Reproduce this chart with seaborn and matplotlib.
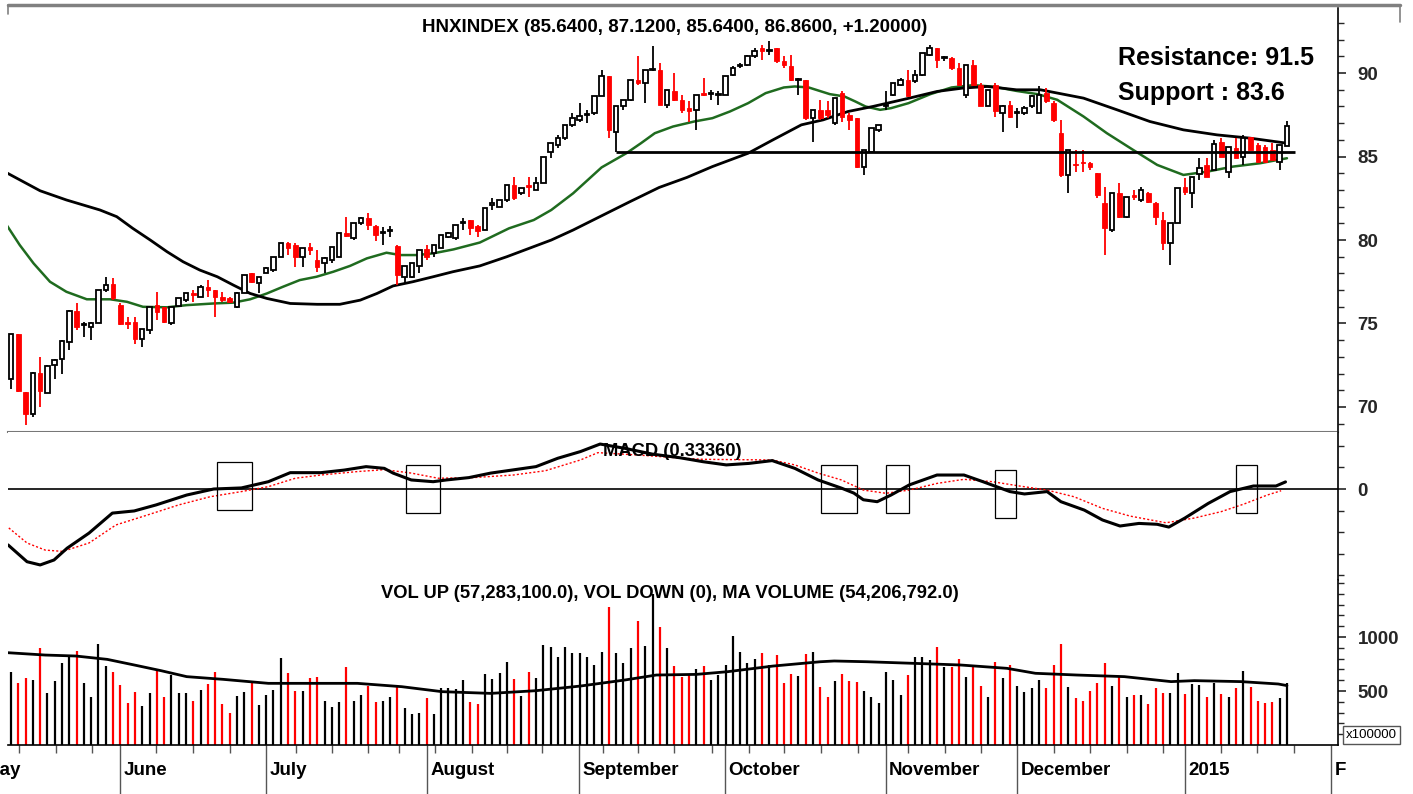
import numpy as np
import pandas as pd
import matplotlib
matplotlib.use('Agg')
import matplotlib.pyplot as plt
import matplotlib.transforms as mtransforms
from matplotlib.patches import Rectangle
from matplotlib.lines import Line2D
import seaborn as sns

# daily candles, HNXINDEX mid May 2014 -> Jan 2015
opens = [71.65, 74.37, 70.9, 69.6, 72.05, 70.86, 72.5, 72.9, 73.9, 75.77,
         74.9, 74.8, 75.05, 77.0, 77.37, 76.1, 75.0, 75.1, 74.1, 74.6,
         76.1, 75.96, 75.0, 76.05, 76.4, 76.85, 76.6, 77.2, 77.0, 76.6,
         76.5, 76.0, 76.8, 78.0, 77.4, 78.0, 78.2, 79.0, 79.8, 79.7,
         78.97, 79.6, 78.8, 78.6, 78.8, 79.0, 80.45, 80.1, 81.0, 81.3,
         80.85, 80.4, 80.55, 79.64, 77.8, 77.8, 78.45, 79.45, 79.2, 79.5,
         80.2, 80.1, 81.0, 81.2, 80.85, 80.6, 82.1, 82.0, 82.4, 83.3,
         82.8, 83.3, 83.0, 83.4, 85.3, 85.7, 86.1, 86.9, 87.2, 87.5,
         87.6, 88.6, 89.8, 86.5, 88.0, 88.4, 89.6, 89.4, 90.2, 90.2,
         88.1, 88.9, 88.4, 87.9, 87.8, 88.8, 88.75, 88.7, 88.7, 89.9,
         90.4, 90.5, 91.0, 91.5, 91.3, 91.5, 90.7, 90.4, 89.6, 89.6,
         87.3, 87.8, 87.8, 87.0, 88.8, 87.5, 87.3, 84.4, 85.3, 86.6,
         88.0, 88.7, 89.3, 89.6, 89.5, 89.9, 91.1, 91.5, 90.9, 90.9,
         90.3, 88.7, 90.5, 89.3, 88.0, 89.3, 87.6, 88.1, 87.6, 87.6,
         88.0, 87.6, 88.8, 88.2, 86.4, 83.9, 84.55, 84.65, 84.6, 84.0,
         82.2, 80.6, 82.8, 81.4, 82.7, 82.4, 82.8, 82.2, 81.2, 79.8,
         81.0, 83.2, 82.8, 83.95, 84.5, 84.2, 85.9, 84.1, 85.5, 85.0,
         86.2, 85.7, 85.6, 85.4, 84.7, 85.64]
highs = [74.4, 74.4, 70.9, 72.1, 73.0, 72.5, 72.9, 74.0, 75.8, 76.2,
         75.1, 75.1, 77.0, 77.8, 77.7, 76.2, 75.4, 75.4, 74.7, 76.0,
         76.9, 76.0, 76.0, 76.5, 76.85, 77.0, 77.3, 77.6, 77.0, 76.9,
         76.6, 76.9, 77.9, 78.0, 77.8, 78.4, 79.0, 79.8, 79.9, 79.8,
         79.5, 79.8, 79.4, 79.0, 79.6, 80.4, 81.4, 81.0, 81.4, 81.6,
         80.9, 80.8, 80.85, 79.7, 78.45, 78.6, 79.4, 79.7, 79.7, 80.3,
         80.5, 80.9, 81.3, 81.2, 80.9, 81.9, 82.5, 82.4, 83.3, 83.8,
         83.1, 83.8, 83.8, 85.0, 85.8, 86.3, 86.9, 87.6, 88.2, 87.8,
         88.6, 90.2, 89.8, 88.0, 88.4, 89.6, 91.0, 90.2, 91.6, 90.6,
         89.0, 90.0, 88.7, 88.3, 88.7, 89.7, 89.0, 88.9, 89.8, 90.4,
         90.6, 91.1, 91.5, 91.7, 91.9, 91.5, 91.0, 91.1, 89.7, 89.6,
         87.8, 88.4, 88.3, 88.5, 88.9, 87.6, 87.3, 85.4, 86.7, 86.9,
         88.9, 89.4, 89.7, 90.2, 90.2, 91.2, 91.7, 91.5, 91.0, 90.95,
         90.6, 90.5, 90.8, 89.4, 89.0, 89.4, 88.1, 88.3, 87.9, 88.0,
         88.7, 89.2, 89.1, 88.3, 87.2, 85.4, 85.4, 85.4, 84.7, 84.0,
         83.2, 82.8, 83.4, 82.6, 83.0, 83.2, 82.9, 82.3, 81.7, 81.0,
         83.1, 83.7, 83.8, 84.9, 84.9, 86.0, 86.1, 85.6, 86.1, 86.3,
         86.2, 85.8, 85.7, 85.8, 85.7, 87.12]
lows = [71.06, 70.9, 68.9, 69.4, 70.0, 70.86, 71.7, 72.0, 73.4, 74.6,
        74.2, 74.0, 75.0, 76.9, 76.4, 74.9, 74.7, 73.8, 73.6, 74.4,
        75.2, 75.0, 74.9, 76.0, 76.3, 76.3, 76.6, 76.6, 75.4, 76.3,
        76.2, 75.9, 76.8, 77.4, 76.8, 78.0, 78.1, 79.0, 79.1, 78.4,
        78.4, 79.1, 78.1, 78.0, 78.6, 79.0, 80.2, 80.0, 80.9, 80.6,
        79.97, 79.7, 80.2, 77.3, 77.4, 77.7, 78.0, 78.8, 79.0, 79.5,
        80.1, 80.0, 80.6, 80.3, 80.2, 80.6, 81.8, 82.0, 82.3, 82.4,
        82.7, 82.6, 83.0, 83.4, 84.9, 85.5, 86.0, 86.8, 87.1, 87.0,
        87.5, 88.6, 86.1, 85.3, 87.8, 88.3, 89.3, 88.2, 90.1, 88.1,
        87.9, 88.3, 87.6, 87.1, 86.6, 88.6, 88.4, 88.1, 88.7, 89.8,
        90.3, 90.4, 90.9, 90.8, 91.1, 90.6, 90.3, 89.5, 88.7, 87.2,
        85.9, 87.2, 87.3, 86.9, 87.1, 86.6, 84.3, 83.9, 85.3, 86.5,
        87.8, 88.6, 89.2, 88.6, 89.4, 89.8, 91.0, 90.3, 90.7, 90.2,
        89.2, 88.5, 89.2, 88.0, 88.0, 87.4, 86.5, 87.3, 86.7, 87.5,
        87.9, 87.6, 88.2, 87.1, 83.8, 82.8, 84.1, 84.1, 84.2, 82.5,
        79.1, 80.5, 81.3, 81.3, 82.4, 82.3, 82.2, 80.9, 79.4, 78.5,
        81.0, 82.7, 81.9, 83.6, 83.8, 84.2, 85.0, 83.7, 84.9, 84.5,
        85.4, 84.7, 84.7, 84.8, 84.2, 85.64]
closes = [74.37, 70.97, 69.6, 72.05, 70.97, 72.47, 72.8, 73.97, 75.77, 74.8,
          74.9, 75.05, 77.0, 77.3, 76.5, 74.96, 74.99, 74.1, 74.7, 76.0,
          75.7, 75.1, 75.96, 76.5, 76.8, 76.7, 77.2, 77.0, 76.6, 76.4,
          76.3, 76.8, 77.9, 77.5, 77.8, 78.3, 79.0, 79.8, 79.5, 78.97,
          79.5, 79.4, 78.4, 78.9, 79.6, 80.4, 80.25, 81.0, 81.3, 80.9,
          80.3, 80.4, 80.6, 77.9, 78.45, 78.6, 79.4, 79.0, 79.7, 80.3,
          80.45, 80.9, 81.0, 80.7, 80.55, 81.9, 82.2, 82.4, 83.3, 82.5,
          83.1, 83.15, 83.4, 85.0, 85.8, 86.1, 86.9, 87.3, 87.45, 87.5,
          88.6, 89.8, 86.6, 88.0, 88.4, 89.6, 89.4, 90.2, 90.25, 88.1,
          89.0, 88.4, 87.8, 87.7, 88.7, 88.7, 88.8, 88.75, 89.8, 90.3,
          90.5, 91.0, 91.3, 91.3, 91.35, 90.7, 90.5, 89.6, 89.6, 87.3,
          87.8, 87.3, 87.5, 88.5, 87.4, 87.2, 84.4, 85.4, 86.7, 86.9,
          88.05, 89.4, 89.6, 88.6, 89.9, 91.2, 91.5, 90.8, 90.9, 90.3,
          89.3, 90.5, 89.3, 88.0, 89.0, 87.7, 88.0, 87.4, 87.6, 87.9,
          88.6, 88.7, 88.3, 87.2, 83.9, 85.4, 84.5, 84.6, 84.4, 82.7,
          80.7, 82.8, 81.4, 82.6, 82.6, 83.0, 82.3, 81.4, 79.8, 81.0,
          83.1, 82.9, 83.8, 84.3, 83.8, 85.75, 85.0, 85.6, 84.9, 86.1,
          85.4, 84.7, 84.7, 84.8, 85.7, 86.86]
# volume in units of 100,000 shares
volumes = [679, 577, 620, 602, 898, 484, 593, 762, 818, 870,
           577, 444, 932, 731, 679, 555, 386, 494, 361, 484,
           701, 441, 648, 484, 478, 410, 509, 562, 679, 380,
           299, 454, 494, 571, 370, 463, 509, 809, 664, 503,
           503, 617, 633, 410, 355, 398, 725, 410, 463, 546,
           401, 410, 441, 540, 339, 287, 293, 432, 287, 525,
           525, 515, 602, 401, 380, 654, 608, 670, 771, 608,
           454, 679, 623, 926, 910, 818, 910, 849, 849, 812,
           741, 864, 1281, 855, 762, 895, 1151, 917, 1398, 1090,
           895, 731, 633, 648, 701, 731, 602, 648, 741, 1009,
           864, 756, 796, 849, 741, 830, 577, 657, 639, 843,
           864, 540, 441, 593, 657, 595, 586, 500, 441, 392,
           679, 602, 463, 648, 812, 818, 787, 910, 719, 719,
           793, 627, 719, 546, 441, 771, 617, 741, 546, 494,
           531, 602, 525, 741, 935, 540, 432, 410, 500, 577,
           756, 546, 627, 441, 463, 463, 380, 531, 484, 484,
           664, 469, 565, 555, 441, 577, 472, 441, 525, 688,
           534, 410, 392, 401, 432, 573]

# moving averages / MACD read at points along the curves (day index, value)
ma20_day = [-0.6, 1.2, 3.1, 5.35, 7.6, 10.4, 13.6, 15.9, 18.1, 21.4, 24.1, 27.8,
            30.5, 32.8, 35.1, 37.3, 39.6, 41.9, 44.2, 46.5, 48.8, 51.5, 53.4,
            55.7, 57.9, 60.7, 64.3, 68.3, 71.7, 74.1, 77.1, 81.0, 84.4, 86.4,
            88.3, 90.8, 93.7, 96.2, 98.6, 101.1, 103.5, 106.0, 107.5, 109.4,
            112.3, 114.3, 115.8, 117.2, 119.2, 120.7, 123.1, 126.1, 129.0, 132.0,
            134.9, 137.8, 140.8, 143.5, 147.1, 150.3, 153.9, 157.2, 160.8, 164.1,
            167.6, 171.3, 175.0]
ma20_val = [80.9, 79.7, 78.6, 77.5, 76.9, 76.45, 76.45, 76.3, 76.0, 75.97, 76.1, 76.2,
            76.25, 76.45, 76.8, 77.2, 77.6, 77.8, 78.1, 78.45, 78.9, 79.24, 79.1,
            79.1, 79.2, 79.44, 79.85, 80.7, 81.2, 81.8, 82.8, 84.35, 85.2, 85.8,
            86.4, 86.8, 87.1, 87.3, 87.7, 88.2, 88.8, 89.14, 89.2, 89.14,
            88.74, 88.6, 88.3, 88.0, 87.8, 87.9, 88.2, 88.74, 89.14, 89.28,
            89.18, 88.94, 88.74, 88.4, 87.4, 86.4, 85.4, 84.5, 83.9, 84.1,
            84.4, 84.6, 84.9]
ma50_day = [-0.6, 4.0, 7.6, 12.2, 14.5, 16.7, 19.1, 21.4, 23.6, 25.9, 28.3, 30.5,
            32.8, 35.1, 38.3, 42.0, 45.1, 47.9, 50.2, 52.4, 55.1, 57.9, 60.6,
            64.3, 68.0, 74.1, 77.1, 81.5, 84.9, 88.9, 92.7, 96.2, 101.1, 104.5,
            108.4, 111.4, 114.8, 118.2, 123.2, 127.0, 130.5, 133.9, 137.9, 141.2,
            147.1, 151.7, 156.2, 160.8, 165.4, 170.0, 175.0]
ma50_val = [84.03, 82.95, 82.4, 81.8, 81.4, 80.7, 80.0, 79.3, 78.7, 78.2, 77.8, 77.3,
            76.8, 76.5, 76.2, 76.15, 76.15, 76.4, 76.8, 77.25, 77.5, 77.8, 78.1,
            78.45, 79.0, 80.0, 80.6, 81.56, 82.3, 83.15, 83.75, 84.4, 85.2, 86.0,
            86.9, 87.2, 87.7, 88.0, 88.5, 88.9, 89.1, 89.2, 89.0, 89.0,
            88.5, 87.8, 87.1, 86.6, 86.3, 86.1, 85.8]
macd_day = [-0.4, 2.2, 4.0, 5.9, 7.7, 10.7, 13.9, 16.9, 19.9, 24.1, 27.8, 31.6,
            35.3, 38.3, 42.5, 45.7, 48.7, 51.2, 52.4, 54.9, 57.9, 59.7, 62.8,
            65.8, 72.0, 75.0, 78.1, 80.8, 84.2, 88.0, 91.8, 94.9, 98.1, 101.2,
            104.4, 107.5, 110.7, 113.9, 115.6, 116.9, 118.8, 120.7, 123.2, 127.0,
            130.7, 133.3, 137.0, 139.0, 142.1, 144.0, 147.2, 149.7, 152.1, 154.7,
            157.2, 158.8, 161.0, 164.2, 167.2, 170.4, 173.5, 174.8]
macd_val = [-2.6, -3.38, -3.53, -3.3, -2.75, -2.05, -1.12, -1.02, -0.74, -0.28, 0.0, 0.05,
            0.34, 0.76, 0.76, 0.88, 1.04, 0.96, 0.74, 0.42, 0.34, 0.42, 0.53,
            0.74, 1.04, 1.43, 1.74, 2.09, 1.89, 1.62, 1.45, 1.27, 1.12, 1.19,
            1.32, 0.96, 0.42, 0.04, -0.19, -0.5, -0.59, -0.28, 0.19, 0.65,
            0.65, 0.34, -0.12, -0.23, -0.12, -0.59, -0.98, -1.44, -1.72, -1.6,
            -1.64, -1.77, -1.35, -0.67, -0.12, 0.14, 0.14, 0.33]
signal_day = [-0.3, 2.2, 4.7, 7.1, 10.7, 14.4, 18.7, 23.0, 27.3, 31.6, 35.3, 39.0,
              42.5, 47.5, 51.2, 54.9, 58.6, 63.4, 68.9, 73.3, 78.1, 80.5, 86.0,
              92.2, 94.9, 104.4, 107.5, 110.7, 113.9, 116.9, 120.0, 123.2, 127.0,
              130.7, 134.6, 138.3, 142.1, 145.8, 149.7, 153.5, 158.4, 162.3, 166.0,
              169.1, 172.3, 174.2]
signal_val = [-1.81, -2.51, -2.84, -2.9, -2.51, -1.67, -1.21, -0.74, -0.36, -0.12, 0.11, 0.5,
              0.65, 0.81, 0.9, 0.74, 0.5, 0.53, 0.65, 0.85, 1.35, 1.69, 1.58,
              1.43, 1.38, 1.35, 1.12, 0.74, 0.42, -0.05, -0.2, -0.05, 0.26,
              0.45, 0.34, 0.14, -0.05, -0.36, -0.9, -1.26, -1.57, -1.35, -1.05,
              -0.7, -0.28, -0.08]
volma_day = [-0.5, 4.7, 8.9, 13.2, 16.9, 20.6, 24.1, 29.1, 35.3, 41.3, 47.5, 53.6,
             59.1, 65.8, 72.0, 78.1, 84.2, 88.5, 94.0, 98.3, 104.5, 111.0, 112.9,
             117.4, 123.9, 130.2, 136.6, 140.5, 146.2, 152.7, 159.1, 162.3, 168.7,
             173.8, 175.0]
volma_val = [855, 833, 824, 793, 741, 688, 633, 608, 571, 571, 571, 540,
             494, 478, 503, 546, 602, 648, 654, 679, 731, 771, 778,
             771, 756, 741, 710, 664, 648, 633, 587, 596, 587,
             565, 550]

support_level = 85.25
support_from = 83
support_to = 176.1
macd_boxes = [(28.3, 33.1, -0.98, 1.26), (54.2, 58.8, -1.12, 1.12),
              (111.1, 116.0, -1.12, 1.12), (120.0, 123.1, -1.12, 1.12),
              (135.0, 137.9, -1.35, 0.88), (168.0, 170.9, -1.12, 1.12)]

month_labels = ['May', 'June', 'July', 'August', 'September', 'October',
                'November', 'December', '2015', 'F']
month_pos = [-4.1, 14.95, 35.0, 57.1, 77.9, 97.9, 120.0, 138.0, 161.0, 181.1]
week_pos = [1.1, 6.2, 11.1, 19.9, 25.0, 30.1, 39.1, 44.0, 49.0, 53.2, 58.2, 63.2,
            68.0, 72.8, 81.2, 86.0, 90.9, 96.2, 101.2, 106.0, 111.1, 116.2, 123.0,
            128.1, 133.1, 143.1, 148.0, 153.1, 158.0, 166.0, 170.9, 176.0]

sns.set_theme(style='white')
plt.rcParams['font.family'] = ['Liberation Sans', 'DejaVu Sans']

df = pd.DataFrame({'open': opens, 'high': highs, 'low': lows, 'close': closes,
                   'volume': volumes})
df['day'] = np.arange(len(df))
df['up'] = df['close'] >= df['open']
df['body'] = (df['close'] - df['open']).abs().clip(lower=0.07)
df['base'] = df[['open', 'close']].min(axis=1)

W, H = 1413, 794
fig = plt.figure(figsize=(W / 100, H / 100), dpi=100)
fig.patch.set_facecolor('white')

def box(top, bottom):
    return [8 / W, 1 - bottom / H, (1338 - 8) / W, (bottom - top) / H]

ax_p = fig.add_axes(box(8, 432))
ax_m = fig.add_axes(box(432, 580), sharex=ax_p)
ax_v = fig.add_axes(box(580, 745), sharex=ax_p)

bold = dict(fontweight='bold', color='black')

# ---- price panel
up = df[df['up']]
dn = df[~df['up']]
ax_p.vlines(up['day'], up['low'], up['high'], color='black', lw=1.3, zorder=3)
ax_p.vlines(dn['day'], dn['low'], dn['high'], color='red', lw=1.3, zorder=3)
ax_p.bar(up['day'], up['body'], bottom=up['base'], width=0.62, facecolor='white',
         edgecolor='black', lw=1.3, zorder=4)
ax_p.bar(dn['day'], dn['body'], bottom=dn['base'], width=0.62, facecolor='red',
         edgecolor='red', lw=0.6, zorder=4)
sns.lineplot(x=ma20_day, y=ma20_val, ax=ax_p, color='#1f6b1f', lw=1.8, zorder=2)
sns.lineplot(x=ma50_day, y=ma50_val, ax=ax_p, color='black', lw=2.0, zorder=2)
ax_p.hlines(support_level, support_from, support_to, color='black', lw=2.0, zorder=5)
ax_p.set_ylim(68.5, 93.9)
ax_p.set_yticks([70, 75, 80, 85, 90])
ax_p.set_yticks(np.arange(69, 94), minor=True)

# ---- MACD panel
ax_m.axhline(0, color='black', lw=1.2, zorder=1)
sns.lineplot(x=signal_day, y=signal_val, ax=ax_m, color='red', lw=1.0,
             linestyle=(0, (1.5, 1.5)), zorder=2)
sns.lineplot(x=macd_day, y=macd_val, ax=ax_m, color='black', lw=2.2, zorder=3)
for x0, x1, y0, y1 in macd_boxes:
    ax_m.add_patch(Rectangle((x0, y0), x1 - x0, y1 - y0, fill=False,
                             ec='black', lw=0.9, zorder=4))
ax_m.set_ylim(-4.23, 2.65)
ax_m.set_yticks([0])
ax_m.set_yticks(np.arange(-4, 3), minor=True)

# ---- volume panel
vcol = np.where(df['up'], 'black', 'red')
ax_v.vlines(df['day'], 0, df['volume'], colors=vcol, lw=1.6, zorder=2)
sns.lineplot(x=volma_day, y=volma_val, ax=ax_v, color='black', lw=2.0, zorder=3)
ax_v.set_ylim(0, 1528)
ax_v.set_yticks([500, 1000])
ax_v.set_yticks(np.arange(100, 1528, 100), minor=True)

ax_p.set_xlim(-0.41, 182.0)
for ax in (ax_p, ax_m, ax_v):
    ax.set_facecolor('white')
    ax.grid(False)
    ax.set_xlabel('')
    ax.set_ylabel('')
    ax.yaxis.tick_right()
    for s in ('left', 'top'):
        ax.spines[s].set_visible(False)
    ax.spines['right'].set_color('black')
    ax.spines['right'].set_linewidth(1.2)
    ax.tick_params(axis='y', which='major', direction='out', length=6, width=1.2,
                   labelsize=13.5, pad=8, right=True, left=False)
    ax.tick_params(axis='y', which='minor', direction='out', length=4, width=1.0,
                   right=True, left=False)
    for lab in ax.get_yticklabels():
        lab.set_fontweight('bold')
ax_p.spines['bottom'].set_color('#777777')
ax_p.spines['bottom'].set_linewidth(1.5)
ax_m.spines['bottom'].set_visible(False)
ax_p.tick_params(axis='x', which='both', bottom=False, labelbottom=False)
ax_m.tick_params(axis='x', which='both', bottom=False, labelbottom=False)

ax_v.spines['bottom'].set_color('black')
ax_v.spines['bottom'].set_linewidth(1.2)
ax_v.set_xticks(month_pos[1:])
ax_v.set_xticks(week_pos, minor=True)
ax_v.tick_params(axis='x', which='major', length=36, width=1.0, color='#555555',
                 labelbottom=False, bottom=True)
ax_v.tick_params(axis='x', which='minor', length=6, width=1.0, color='#555555',
                 bottom=True)
trans = mtransforms.blended_transform_factory(ax_v.transData, ax_v.transAxes)
for lab, pos in zip(month_labels, month_pos):
    ax_v.text(pos + 0.45, -0.152, lab, transform=trans, ha='left', va='center',
              fontsize=13.5, clip_on=False, **bold)

# ---- texts
fig.text(675 / W, 1 - 28 / H, 'HNXINDEX (85.6400, 87.1200, 85.6400, 86.8600, +1.20000)',
         ha='center', va='center', fontsize=13.5, **bold)
fig.text(1118 / W, 1 - 58 / H, 'Resistance: 91.5', ha='left', va='center',
         fontsize=18, **bold)
fig.text(1118 / W, 1 - 93 / H, 'Support : 83.6', ha='left', va='center',
         fontsize=18, **bold)
fig.text(603 / W, 1 - 451 / H, 'MACD (0.33360)', ha='left', va='center',
         fontsize=13.2, **bold)
fig.text(381 / W, 1 - 593 / H,
         'VOL UP (57,283,100.0), VOL DOWN (0), MA VOLUME (54,206,792.0)',
         ha='left', va='center', fontsize=13.2, **bold)
fig.text(1346 / W, 1 - 735 / H, 'x100000', ha='left', va='center', fontsize=9.5,
         color='black', bbox=dict(boxstyle='square,pad=0.25', fc='white',
                                  ec='#555555', lw=1.0))

# frame lines at the top of the chart
fig.add_artist(Line2D([8 / W, 1400 / W], [1 - 5 / H, 1 - 5 / H], color='#808080', lw=2.5))
fig.add_artist(Line2D([8 / W, 8 / W], [1 - 5 / H, 1 - 14 / H], color='#808080', lw=1.2))
fig.add_artist(Line2D([1400 / W, 1400 / W], [1 - 5 / H, 1 - 22 / H], color='#808080', lw=1.2))

fig.savefig('out.png', dpi=100, facecolor='white')
